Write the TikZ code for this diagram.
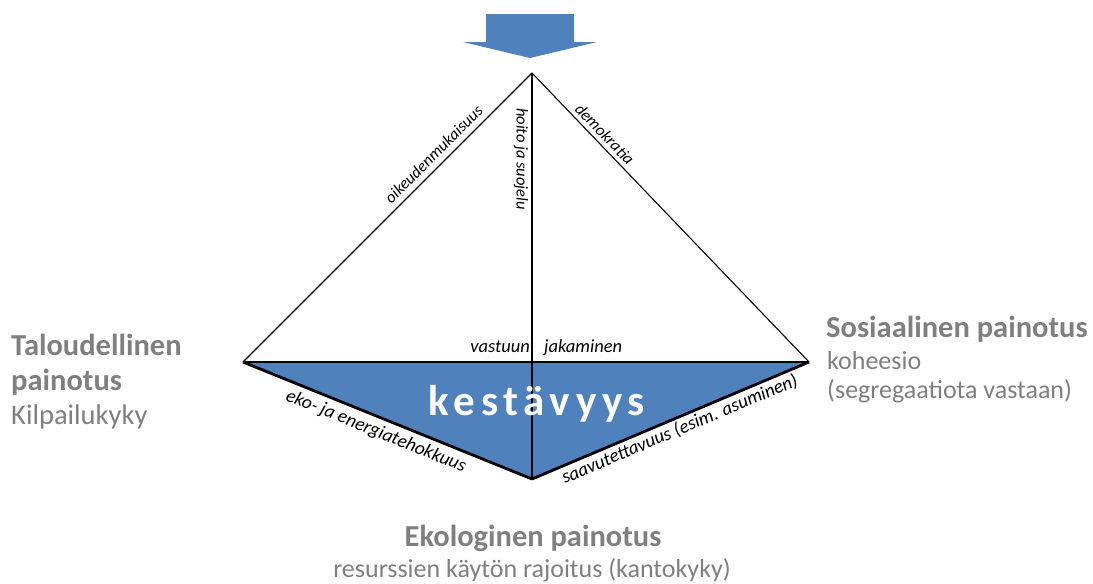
\documentclass[tikz,border=0pt]{standalone}
\usepackage{fontspec}
\setmainfont{Carlito}
\definecolor{kblue}{HTML}{4F81BD}
\definecolor{kgray}{HTML}{7F7F7F}
\begin{document}
\begin{tikzpicture}[x=1pt,y=-1pt,
  thinedge/.style={draw=black,line width=1.1pt,line join=miter},
  thickedge/.style={draw=black,line width=2.8pt,line join=round},
  uplabel/.style={font=\fontsize{16.5}{18}\selectfont\itshape,inner sep=1pt},
  lowlabel/.style={font=\fontsize{19}{22}\selectfont\itshape,inner sep=1pt},
  midlabel/.style={font=\fontsize{18.5}{22}\selectfont\itshape,inner sep=0pt},
  headbold/.style={font=\fontsize{30.5}{36}\selectfont\bfseries,text=kgray,inner sep=0pt},
  subtext/.style={font=\fontsize{26}{31}\selectfont,text=kgray,inner sep=0pt}]
\useasboundingbox (0,0) rectangle (1093,584);
% points
\coordinate (T) at (532,73);
\coordinate (L) at (243,362);
\coordinate (R) at (809,362);
\coordinate (B) at (532,479);
% arrow
\fill[kblue] (486,14) -- (574,14) -- (574,42) -- (597,42) -- (530,58) -- (463,42) -- (486,42) -- cycle;
% blue triangle
\fill[kblue] (L) -- (R) -- (B) -- cycle;
% upper triangle
\draw[thinedge] (L) -- (T) node[uplabel,sloped,above=5pt,pos=0.69] (oik) {oikeudenmukaisuus};
\draw[thinedge] (T) -- (R) node[uplabel,sloped,above=3pt,pos=0.236] (dem) {demokratia};
\draw[thinedge] (T) -- (B);
% lower triangle
\draw[thickedge] (L) -- (R);
\draw[thickedge] (L) -- (B) node[lowlabel,sloped,below=4pt,pos=0.479] (eko) {eko- ja energiatehokkuus};
\draw[thickedge] (B) -- (R) node[lowlabel,sloped,below=1pt,pos=0.517] (saa) {saavutettavuus (esim. asuminen)};
% labels
\node[uplabel,rotate=-90] (hoi) at (521,159) {hoito ja suojelu};
\node[midlabel,anchor=base east] (vas) at (530,352) {vastuun};
\node[midlabel,anchor=base west] (jak) at (544,352) {jakaminen};
\node[font=\fontsize{43}{48}\selectfont\bfseries\addfontfeature{LetterSpace=13},text=white,anchor=base,inner sep=0pt] (kes) at (537,415) {kestävyys};
% side texts
\node[headbold,anchor=base west] (tal1) at (11,355) {Taloudellinen};
\node[headbold,anchor=base west] (tal2) at (11,390) {painotus};
\node[subtext,anchor=base west,font=\fontsize{28.5}{31}\selectfont] (kil) at (11,424) {Kilpailukyky};
\node[headbold,anchor=base west] (sos) at (826,337) {Sosiaalinen painotus};
\node[subtext,anchor=base west] (koh) at (827,369) {koheesio};
\node[subtext,anchor=base west] (seg) at (827,398) {(segregaatiota vastaan)};
\node[headbold,anchor=base] (eko1) at (533,546) {Ekologinen painotus};
\node[subtext,anchor=base] (res) at (532,577) {resurssien käytön rajoitus (kantokyky)};
\end{tikzpicture}
\end{document}
